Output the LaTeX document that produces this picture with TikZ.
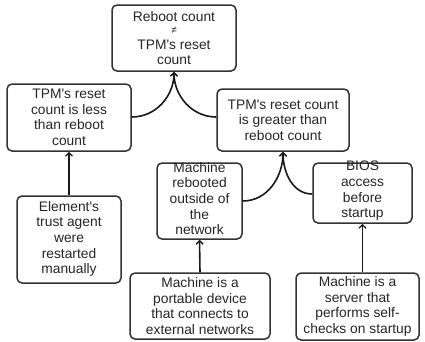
\documentclass[tikz,border=0pt]{standalone}
\usepackage{fontspec}
\setmainfont{Liberation Sans}
\usetikzlibrary{arrows.meta}
\tikzset{
  box/.style={draw=black!80, line width=1.5pt, rounded corners=5pt, fill=white, inner sep=0pt},
  txt/.style={align=center, inner sep=0pt, font=\fontsize{13.8}{15.6}\selectfont, text=black!85},
  link/.style={draw=black!90, line width=1.6pt, -{Straight Barb[length=3.5pt,width=7pt,line width=1.4pt]}},
}
\begin{document}
\begin{tikzpicture}[x=1pt,y=-1pt]
\useasboundingbox (0,0) rectangle (425,341);
% boxes
\node[box, minimum width=124pt, minimum height=66pt] (top) at (174,38) {};
\node[box, minimum width=124pt, minimum height=67pt] (less) at (69,117.5) {};
\node[box, minimum width=132pt, minimum height=62pt] (greater) at (283,120) {};
\node[box, minimum width=104pt, minimum height=87pt] (agent) at (69,239.5) {};
\node[box, minimum width=85pt, minimum height=76pt] (reboot) at (199.5,201) {};
\node[box, minimum width=99pt, minimum height=60pt] (bios) at (362.5,193) {};
\node[box, minimum width=140pt, minimum height=66pt] (portable) at (200,306) {};
\node[box, minimum width=123pt, minimum height=67pt] (server) at (357.5,306.5) {};
% texts
\node[txt] (top-t) at (top.center) {Reboot count\\[-3pt]{\fontsize{10}{10}\selectfont ≠}\\TPM\textquotesingle s reset\\count};
\node[txt] (less-t) at (less.center) {TPM\textquotesingle s reset\\count is less\\than reboot\\count};
\node[txt] (greater-t) at (greater.center) {TPM\textquotesingle s reset count\\is greater than\\reboot count};
\node[txt] (agent-t) at ([yshift=0.5pt]agent.center) {Element\textquotesingle s\\trust agent\\were\\restarted\\manually};
\node[txt] (reboot-t) at ([yshift=2.5pt]reboot.center) {Machine\\rebooted\\outside of\\the\\network};
\node[txt] (bios-t) at ([yshift=2pt]bios.center) {BIOS\\access\\before\\startup};
\node[txt] (portable-t) at (portable.center) {Machine is a\\portable device\\that connects to\\external networks};
\node[txt] (server-t) at (server.center) {Machine is a\\server that\\performs self-\\checks on startup};
% connectors
\draw[link] (less.east |- 0,117) to[out=0,in=-90] (top.south);
\draw[link] (greater.west |- 0,117) to[out=180,in=-90] (top.south);
\draw[link] (agent.north) -- (less.south);
\draw[link] (reboot.east |- 0,201) to[out=0,in=-90] (greater.south);
\draw[link] (bios.west |- 0,194) to[out=180,in=-90] (greater.south);
\draw[link] (portable.north) -- (reboot.south);
\draw[link] (server.north -| bios.south) -- (bios.south);
\end{tikzpicture}
\end{document}
